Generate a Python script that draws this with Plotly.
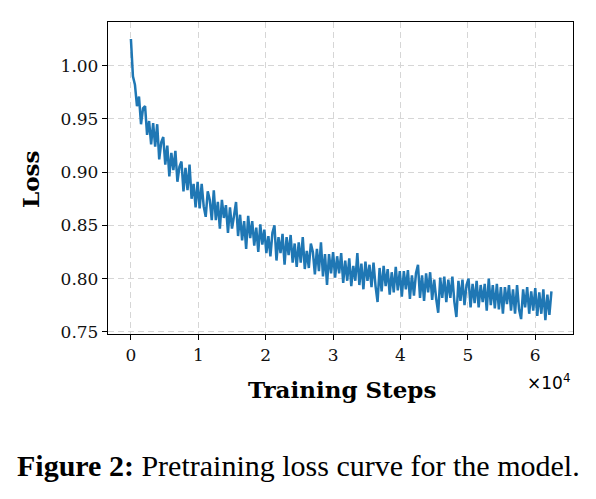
import plotly.graph_objects as go

# Training steps (every 300 steps)
steps = list(range(0, 62401, 300))

loss = [
    1.025, 0.990, 0.982, 0.962, 0.971, 0.945, 0.960, 0.962, 0.935, 0.948,
    0.926, 0.946, 0.924, 0.945, 0.912, 0.928, 0.933, 0.907, 0.925, 0.896,
    0.918, 0.902, 0.920, 0.891, 0.905, 0.910, 0.882, 0.904, 0.883, 0.907,
    0.875, 0.889, 0.867, 0.891, 0.866, 0.889, 0.868, 0.858, 0.882, 0.874,
    0.855, 0.883, 0.855, 0.872, 0.847, 0.874, 0.857, 0.869, 0.843, 0.867,
    0.847, 0.859, 0.872, 0.840, 0.860, 0.836, 0.854, 0.828, 0.859, 0.838,
    0.854, 0.831, 0.848, 0.825, 0.851, 0.832, 0.846, 0.824, 0.840, 0.821,
    0.843, 0.850, 0.817, 0.839, 0.824, 0.842, 0.813, 0.839, 0.822, 0.841,
    0.815, 0.833, 0.811, 0.834, 0.815, 0.839, 0.809, 0.826, 0.810, 0.833,
    0.825, 0.804, 0.828, 0.807, 0.834, 0.802, 0.823, 0.794, 0.823, 0.805,
    0.825, 0.801, 0.821, 0.805, 0.824, 0.796, 0.817, 0.798, 0.819, 0.793,
    0.812, 0.798, 0.824, 0.794, 0.814, 0.790, 0.816, 0.798, 0.813, 0.792,
    0.815, 0.793, 0.778, 0.810, 0.788, 0.812, 0.793, 0.809, 0.785, 0.806,
    0.787, 0.811, 0.789, 0.807, 0.783, 0.807, 0.790, 0.808, 0.781, 0.803,
    0.784, 0.805, 0.813, 0.782, 0.803, 0.779, 0.805, 0.787, 0.806, 0.780,
    0.799, 0.781, 0.768, 0.801, 0.782, 0.802, 0.778, 0.799, 0.782, 0.802,
    0.778, 0.764, 0.798, 0.779, 0.799, 0.775, 0.794, 0.800, 0.773, 0.795,
    0.777, 0.798, 0.773, 0.794, 0.778, 0.795, 0.770, 0.800, 0.775, 0.794,
    0.772, 0.795, 0.771, 0.792, 0.767, 0.792, 0.776, 0.794, 0.770, 0.790,
    0.767, 0.794, 0.771, 0.762, 0.790, 0.773, 0.792, 0.767, 0.788, 0.770,
    0.791, 0.765, 0.787, 0.767, 0.790, 0.761, 0.785, 0.766, 0.788,
]
steps = steps[:len(loss)]

y_ticks = [0.75, 0.80, 0.85, 0.90, 0.95, 1.00]
y_ticktext = ["0.75", "0.80", "0.85", "0.90", "0.95", "1.00"]
x_ticks = [0, 10000, 20000, 30000, 40000, 50000, 60000]
x_ticktext = ["0", "1", "2", "3", "4", "5", "6"]

W, H = 596, 499
L, R, T, B = 108, 573, 22, 334

fig = go.Figure()
fig.add_trace(go.Scatter(x=steps, y=loss, mode="lines",
                         line=dict(color="#1f77b4", width=2.5, simplify=False),
                         showlegend=False))

axis_common = dict(showline=True, linecolor="black", linewidth=1.3, mirror=True,
                   ticks="outside", ticklen=5, tickwidth=1.2, tickcolor="black",
                   showgrid=True, gridcolor="#d6d6d6", gridwidth=1, griddash="6px,4px",
                   zeroline=False,
                   tickfont=dict(family="DejaVu Serif", size=17, color="#111"))

fig.update_xaxes(range=[-3400, 65600], tickvals=x_ticks, ticktext=x_ticktext, **axis_common)
fig.update_yaxes(range=[0.748, 1.041], tickvals=y_ticks, ticktext=y_ticktext, **axis_common)

pw = R - L
ph = B - T
def px(x):
    return (x - L) / pw
def py(y):
    return (B - y) / ph

fig.update_layout(
    width=W, height=H,
    margin=dict(l=L, r=W - R, t=T, b=H - B),
    paper_bgcolor="white", plot_bgcolor="white",
    annotations=[
        dict(text="<b>Loss</b>", xref="paper", yref="paper", x=px(30), y=py(180),
             textangle=-90, showarrow=False, xanchor="center", yanchor="middle",
             font=dict(family="DejaVu Serif", size=23, color="black")),
        dict(text="<b>Training Steps</b>", xref="paper", yref="paper", x=px(342), y=py(389),
             showarrow=False, xanchor="center", yanchor="middle",
             font=dict(family="DejaVu Serif", size=23, color="black")),
        dict(text="×10<sup>4</sup>", xref="paper", yref="paper", x=px(572), y=py(382),
             showarrow=False, xanchor="right", yanchor="middle",
             font=dict(family="DejaVu Sans", size=17, color="black")),
        dict(text="<b>Figure 2:</b> Pretraining loss curve for the model.",
             xref="paper", yref="paper", x=px(298), y=py(465),
             showarrow=False, xanchor="center", yanchor="middle",
             font=dict(family="Liberation Serif", size=30, color="black")),
    ],
)

fig.write_html("out.html")
